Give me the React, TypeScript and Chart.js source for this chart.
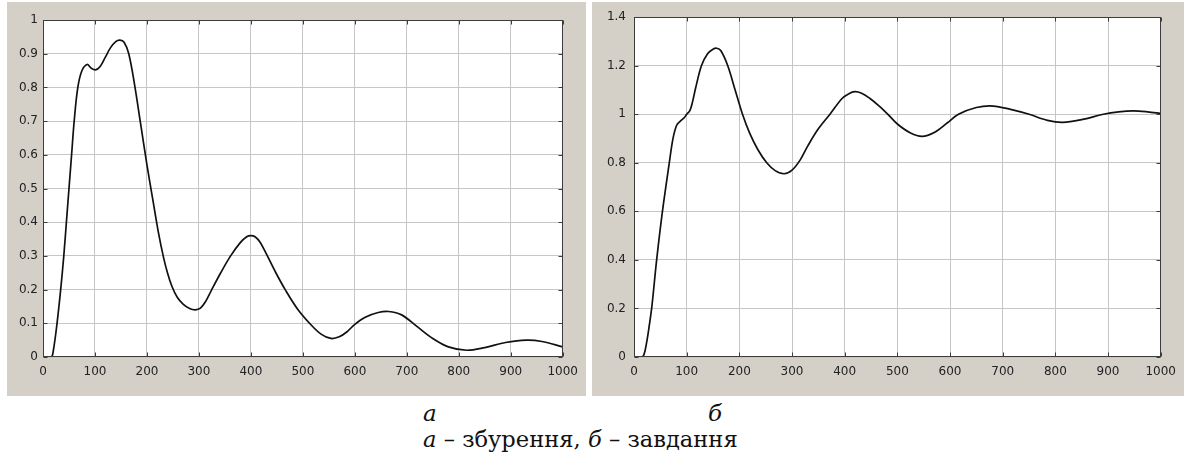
import React, { useEffect, useRef } from "react";
import { Chart, registerables } from "chart.js";

Chart.register(...registerables);

// ---- tick labels ----
const xTicks = [0, 100, 200, 300, 400, 500, 600, 700, 800, 900, 1000];
const yTicksA = [0, 0.1, 0.2, 0.3, 0.4, 0.5, 0.6, 0.7, 0.8, 0.9, 1];
const yTicksB = [0, 0.2, 0.4, 0.6, 0.8, 1, 1.2, 1.4];

// ---- panel а: disturbance response ----
const timeA = [
  0, 16, 20, 27, 34, 40, 45, 50, 55, 60, 67, 75, 85, 92, 101, 110, 120, 130, 140, 148,
  156, 165, 176, 188, 200, 212, 222, 232, 240, 248, 258, 270, 282, 293, 303, 313, 323,
  342, 361, 380, 392, 400, 408, 418, 430, 448, 466, 490, 516, 535, 554, 570, 585, 600,
  620, 645, 665, 690, 720, 750, 780, 815, 850, 890, 930, 960, 1000,
];
const valueA = [
  0, 0, 0.02, 0.1, 0.2, 0.3, 0.4, 0.5, 0.6, 0.7, 0.8, 0.85, 0.868, 0.858, 0.852, 0.862,
  0.89, 0.918, 0.936, 0.94, 0.934, 0.9, 0.81, 0.69, 0.57, 0.46, 0.37, 0.295, 0.247,
  0.21, 0.178, 0.156, 0.144, 0.14, 0.145, 0.165, 0.195, 0.25, 0.3, 0.34, 0.357, 0.36,
  0.357, 0.34, 0.305, 0.25, 0.2, 0.142, 0.095, 0.068, 0.055, 0.06, 0.075, 0.097, 0.118,
  0.132, 0.135, 0.125, 0.09, 0.055, 0.03, 0.02, 0.028, 0.043, 0.05, 0.046, 0.03,
];

// ---- panel б: setpoint response ----
const timeB = [
  0, 15, 19, 24, 29, 34, 43, 54, 67, 74, 81, 88, 95, 100, 106, 111, 117, 128, 140, 150,
  157, 165, 178, 192, 206, 220, 235, 252, 268, 285, 300, 315, 330, 350, 372, 395, 408,
  419, 432, 448, 465, 482, 500, 525, 547, 570, 595, 616, 650, 682, 715, 750, 785, 814,
  850, 891, 920, 948, 975, 1000,
];
const valueB = [
  0, 0, 0.01, 0.06, 0.13, 0.21, 0.4, 0.6, 0.8, 0.9, 0.955, 0.972, 0.985, 1.0, 1.015,
  1.05, 1.108, 1.2, 1.25, 1.268, 1.272, 1.262, 1.2, 1.1, 1.0, 0.92, 0.855, 0.8, 0.768,
  0.755, 0.77, 0.81, 0.87, 0.94, 1.0, 1.065, 1.085, 1.093, 1.087, 1.065, 1.035, 1.0,
  0.96, 0.923, 0.909, 0.925, 0.965, 1.0, 1.028, 1.034, 1.02, 1.0, 0.975, 0.967, 0.978,
  1.0, 1.01, 1.014, 1.01, 1.003,
];

const PANEL_BG = "#d4d0c8";
const TICK_FONT = "'DejaVu Sans', sans-serif";

const framePlugin = {
  id: "matlabFrame",
  beforeDraw(chart: any) {
    const { ctx, chartArea: a, width, height } = chart;
    ctx.save();
    ctx.fillStyle = PANEL_BG;
    ctx.fillRect(0, 0, width, height);
    ctx.fillStyle = "#ffffff";
    ctx.fillRect(a.left, a.top, a.right - a.left, a.bottom - a.top);
    ctx.restore();
  },
  afterDraw(chart: any) {
    const { ctx, chartArea: a } = chart;
    const xs = chart.scales.x;
    const ys = chart.scales.y;
    const L = Math.round(a.left) + 0.5;
    const R = Math.round(a.right) - 0.5;
    const T = Math.round(a.top) + 0.5;
    const B = Math.round(a.bottom) - 0.5;
    ctx.save();
    ctx.strokeStyle = "#3c3c3c";
    ctx.lineWidth = 1;
    ctx.beginPath();
    const tl = 4;
    xs.ticks.forEach((t: any) => {
      const p = Math.round(xs.getPixelForValue(t.value)) + 0.5;
      ctx.moveTo(p, B);
      ctx.lineTo(p, B - tl);
      ctx.moveTo(p, T);
      ctx.lineTo(p, T + tl);
    });
    ys.ticks.forEach((t: any) => {
      const p = Math.round(ys.getPixelForValue(t.value)) + 0.5;
      ctx.moveTo(L, p);
      ctx.lineTo(L + tl, p);
      ctx.moveTo(R, p);
      ctx.lineTo(R - tl, p);
    });
    ctx.stroke();
    ctx.strokeRect(L, T, R - L, B - T);
    ctx.restore();
  },
};

type Props = {
  time: number[];
  values: number[];
  yTicks: number[];
  left: number;
  top: number;
  width: number;
  height: number;
  yAxisWidth: number;
  padTop: number;
  padRight: number;
  yLabelPad: number;
};

function ResponseChart(p: Props) {
  const ref = useRef<HTMLCanvasElement>(null);
  useEffect(() => {
    if (!ref.current) return;
    const yMin = p.yTicks[0];
    const yMax = p.yTicks[p.yTicks.length - 1];
    const chart = new Chart(ref.current, {
      type: "line",
      data: {
        datasets: [
          {
            data: p.time.map((t, i) => ({ x: t, y: p.values[i] })),
            borderColor: "#111111",
            borderWidth: 1.7,
            pointRadius: 0,
            tension: 0.35,
            fill: false,
          },
        ],
      },
      options: {
        animation: false,
        responsive: false,
        devicePixelRatio: 1,
        events: [],
        layout: { padding: { top: p.padTop, right: p.padRight, left: 0, bottom: 0 } },
        plugins: { legend: { display: false }, tooltip: { enabled: false } },
        scales: {
          x: {
            type: "linear",
            min: xTicks[0],
            max: xTicks[xTicks.length - 1],
            afterBuildTicks: (s: any) => {
              s.ticks = xTicks.map((v) => ({ value: v }));
            },
            afterFit: (s: any) => {
              s.height = 39;
            },
            grid: { color: "#c6c6c6", drawTicks: false },
            border: { display: false },
            ticks: {
              padding: 8,
              color: "#222222",
              font: { family: TICK_FONT, size: 12 },
              maxRotation: 0,
              autoSkip: false,
              callback: (v: any) => String(v),
            },
          },
          y: {
            type: "linear",
            min: yMin,
            max: yMax,
            afterBuildTicks: (s: any) => {
              s.ticks = p.yTicks.map((v) => ({ value: v }));
            },
            afterFit: (s: any) => {
              s.width = p.yAxisWidth;
            },
            grid: { color: "#c6c6c6", drawTicks: false },
            border: { display: false },
            ticks: {
              padding: p.yLabelPad,
              color: "#222222",
              font: { family: TICK_FONT, size: 12 },
              autoSkip: false,
              callback: (v: any) => String(Number(Number(v).toFixed(1))),
            },
          },
        },
      },
      plugins: [framePlugin],
    } as any);
    return () => chart.destroy();
  }, []);
  return (
    <canvas
      ref={ref}
      width={p.width}
      height={p.height}
      style={{
        position: "absolute",
        left: p.left,
        top: p.top,
        width: p.width,
        height: p.height,
        display: "block",
      }}
    />
  );
}

const serif = "'DejaVu Serif', serif";

export default function App() {
  return (
    <div
      style={{
        position: "absolute",
        left: 0,
        top: 0,
        width: 1184,
        height: 457,
        background: "#ffffff",
        overflow: "hidden",
      }}
    >
      <ResponseChart
        time={timeA}
        values={valueA}
        yTicks={yTicksA}
        left={7}
        top={2}
        width={579}
        height={394}
        yAxisWidth={36}
        padTop={18}
        padRight={20}
        yLabelPad={5}
      />
      <ResponseChart
        time={timeB}
        values={valueB}
        yTicks={yTicksB}
        left={592}
        top={2}
        width={592}
        height={394}
        yAxisWidth={42}
        padTop={12}
        padRight={18}
        yLabelPad={8}
      />
      <div
        style={{
          position: "absolute",
          left: 423,
          top: 400,
          fontFamily: serif,
          fontSize: 23,
          fontStyle: "italic",
          lineHeight: "normal",
          color: "#111",
        }}
      >
        а
      </div>
      <div
        style={{
          position: "absolute",
          left: 708,
          top: 400,
          fontFamily: serif,
          fontSize: 23,
          fontStyle: "italic",
          lineHeight: "normal",
          color: "#111",
        }}
      >
        б
      </div>
      <div
        style={{
          position: "absolute",
          left: 423,
          top: 426,
          fontFamily: serif,
          fontSize: 22.6,
          lineHeight: "normal",
          color: "#111",
          whiteSpace: "nowrap",
        }}
      >
        <i>а</i> – збурення, <i>б</i> – завдання
      </div>
    </div>
  );
}
